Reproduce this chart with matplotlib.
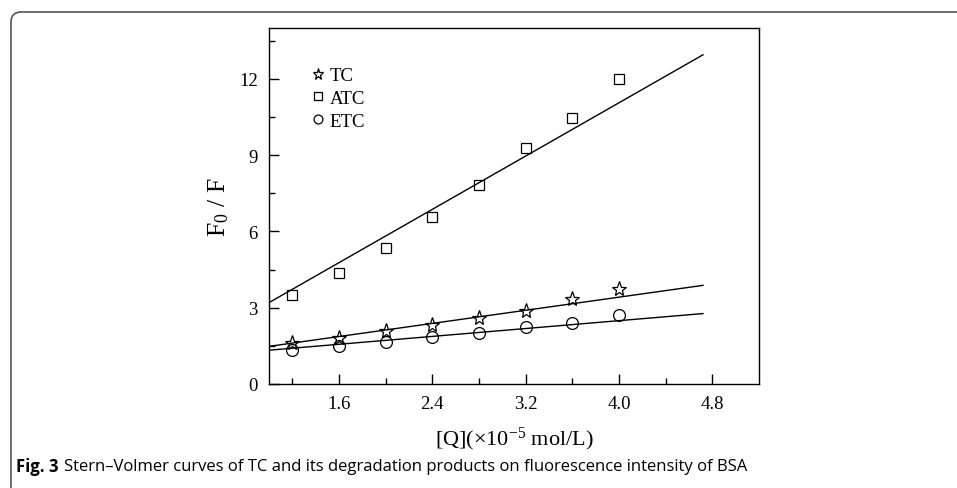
import matplotlib
matplotlib.use("Agg")
import matplotlib.pyplot as plt
from matplotlib.path import Path
from matplotlib.patches import PathPatch
import numpy as np

# data
conc = [1.2, 1.6, 2.0, 2.4, 2.8, 3.2, 3.6, 4.0]   # [Q] x10^-5 mol/L
tc = [1.60, 1.80, 2.07, 2.31, 2.58, 2.88, 3.36, 3.75]
atc = [3.50, 4.38, 5.35, 6.56, 7.84, 9.28, 10.46, 11.99]
etc = [1.35, 1.48, 1.67, 1.83, 2.00, 2.25, 2.39, 2.71]

# fitted lines as drawn: (value at x=1.0, slope)
fit_tc = (1.48, 0.645)
fit_atc = (3.20, 2.62)
fit_etc = (1.33, 0.387)
fit_range = [1.0, 4.72]

serif = "Liberation Serif"
plt.rcParams["font.family"] = serif
plt.rcParams["mathtext.fontset"] = "custom"
plt.rcParams["mathtext.rm"] = serif
plt.rcParams["mathtext.it"] = serif + ":italic"

fig = plt.figure(figsize=(9.57, 4.89), dpi=100)
ax = fig.add_axes([269 / 957, 1 - 385 / 489, 490 / 957, 356 / 489])

xf = np.array(fit_range)
for (b, m) in (fit_tc, fit_atc, fit_etc):
    ax.plot(xf, b + m * (xf - 1.0), color="black", lw=1.0)

ax.plot(conc, tc, ls="none", marker="*", ms=11, mfc="none", mec="black", mew=0.9, label="TC")
ax.plot(conc, atc, ls="none", marker="s", ms=7, mfc="none", mec="black", mew=0.9, label="ATC")
ax.plot(conc, etc, ls="none", marker="o", ms=8.5, mfc="none", mec="black", mew=0.9, label="ETC")

ax.set_xlim(1.0, 5.2)
ax.set_ylim(0, 14)
ax.set_xticks([1.6, 2.4, 3.2, 4.0, 4.8])
ax.set_xticks([1.2, 2.0, 2.8, 3.6, 4.4], minor=True)
ax.set_yticks([0, 3, 6, 9, 12])
ax.set_yticks([1.5, 4.5, 7.5, 10.5, 13.5], minor=True)
ax.set_xticklabels(["1.6", "2.4", "3.2", "4.0", "4.8"])
ax.tick_params(which="both", direction="in", top=False, right=False, labelsize=13.5, width=1.0)
ax.tick_params(which="major", length=7, pad=8)
ax.tick_params(which="minor", length=4)
for s in ax.spines.values():
    s.set_linewidth(1.0)

ax.set_ylabel("F$_0$ / F", fontsize=18.5, labelpad=6)
ax.set_xlabel("[Q](\u00d710$^{-5}$ mol/L)", fontsize=16, labelpad=9)

ax.legend(loc="upper left", bbox_to_anchor=(0.085, 0.89), frameon=False, fontsize=13.5,
          markerscale=0.75, handlelength=0.8, handletextpad=0.2, labelspacing=0.3,
          borderpad=0, borderaxespad=0)

# rounded frame around the figure panel (top and left edges)
r = 10
verts = [(11, 0), (11, 476 - r), (11, 476), (11 + r, 476), (960, 476)]
codes = [Path.MOVETO, Path.LINETO, Path.CURVE3, Path.CURVE3, Path.LINETO]
frame = PathPatch(Path([(vx / 100, vy / 100) for vx, vy in verts], codes), fill=False,
                  edgecolor="#555555", lw=1.2, transform=fig.dpi_scale_trans)
fig.patches.append(frame)

# caption
t1 = fig.text(16 / 957, 1 - 467 / 489, "Fig. 3", fontsize=12, fontweight="bold",
              family="Open Sans", va="center", ha="left")
fig.canvas.draw()
bb = t1.get_window_extent()
fig.text((bb.x1 + 6) / 957, 1 - 467 / 489,
         "Stern\u2013Volmer curves of TC and its degradation products on fluorescence intensity of BSA",
         fontsize=12, family="Open Sans", va="center", ha="left")

fig.savefig("out.png", dpi=100)
